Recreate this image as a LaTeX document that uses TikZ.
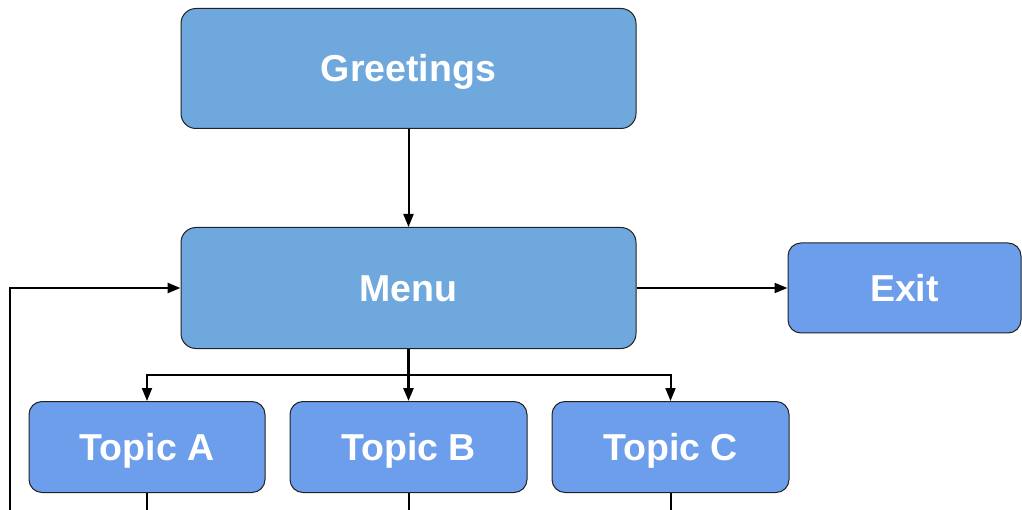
\documentclass[tikz,border=0pt]{standalone}
\usepackage{fontspec}
\setmainfont{Liberation Sans}
\usetikzlibrary{arrows.meta}
\definecolor{boxA}{HTML}{6FA8DC}
\definecolor{boxB}{HTML}{6D9EEB}
\definecolor{edge}{HTML}{222222}
\tikzset{
  bigbox/.style={draw=edge, line width=1pt, fill=boxA, rounded corners=15pt, inner sep=0pt,
    minimum width=455pt, minimum height=120pt, text=white, text height=26.8pt, text depth=0pt,
    font=\fontsize{37.5}{40}\selectfont\bfseries},
  smallbox/.style={draw=edge, line width=1pt, fill=boxB, rounded corners=13pt, inner sep=0pt,
    minimum width=236pt, minimum height=91pt, text=white, text height=26.8pt, text depth=0pt,
    font=\fontsize{37.5}{40}\selectfont\bfseries},
  conn/.style={line width=2pt, draw=black, -{Triangle[length=13pt,width=10pt]}},
  heavy/.style={line width=2.6pt, draw=black},
  plain/.style={line width=2pt, draw=black},
}
\begin{document}
\begin{tikzpicture}[x=1pt,y=-1pt]
\useasboundingbox (0,0) rectangle (1022,510);
\fill[white] (0,0) rectangle (1022,510);
\node[bigbox] (greet) at (408.5,68.5) {Greetings};
\node[bigbox, minimum height=121pt] (menu) at (408.5,288) {Menu};
\node[smallbox, minimum width=233pt, minimum height=90pt] (exit) at (904.5,288) {Exit};
\node[smallbox] (ta) at (147,447) {Topic A};
\node[smallbox, minimum width=237pt] (tb) at (408.5,447) {Topic B};
\node[smallbox, minimum width=237pt] (tc) at (670.5,447) {Topic C};
\coordinate (bus) at (408.5,375);
\coordinate (loop) at (10,512);
\coordinate (ea) at (147,512);
\coordinate (eb) at (408.5,512);
\coordinate (ec) at (670.5,512);
\draw[conn] (greet.south) -- (menu.north);
\draw[conn] (menu.east) -- (exit.west);
\draw[heavy] (menu.south) -- (bus);
\draw[conn, line width=2.6pt] (bus) -- (tb.north);
\draw[conn] (bus) -| (ta.north);
\draw[conn] (bus) -| (tc.north);
\draw[conn, line width=2.6pt] (loop) |- (menu.west);
\draw[plain] (ta.south) -- (ea);
\draw[plain] (tb.south) -- (eb);
\draw[plain] (tc.south) -- (ec);
\end{tikzpicture}
\end{document}
